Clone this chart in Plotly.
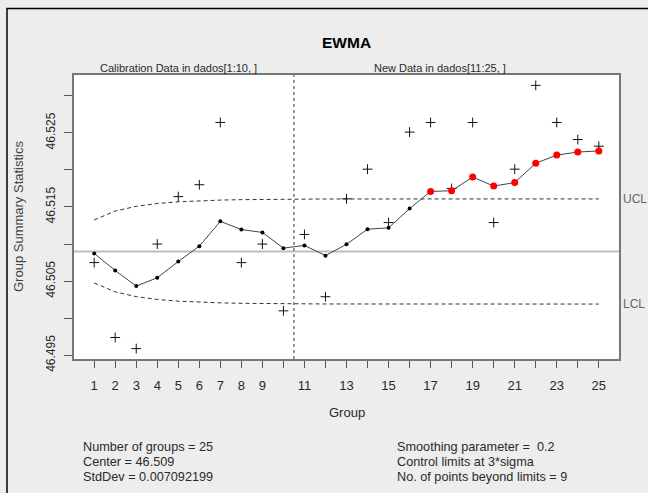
import plotly.graph_objects as go

# ---------------- data ----------------
groups = list(range(1, 26))
group_stats = [46.5075, 46.4974, 46.4959, 46.5100, 46.5164, 46.5180, 46.5264, 46.5075, 46.5100, 46.5010,
               46.5113, 46.5029, 46.5161, 46.5201, 46.5129, 46.5251, 46.5264, 46.5175, 46.5264, 46.5129,
               46.5201, 46.5314, 46.5264, 46.5241, 46.5232]
ewma_values = [46.50874, 46.50644, 46.50433, 46.50546, 46.50765, 46.50972, 46.51306, 46.51196, 46.51157, 46.50945,
               46.50982, 46.50844, 46.50997, 46.51200, 46.51219, 46.51478, 46.51710, 46.51719, 46.51904, 46.51782,
               46.51829, 46.52090, 46.52200, 46.52241, 46.52256]
ucl_values = [46.51326, 46.51445, 46.51509, 46.51547, 46.51570, 46.51584, 46.51593, 46.51599, 46.51603, 46.51605,
              46.51607, 46.51608, 46.51608, 46.51609, 46.51609, 46.51609, 46.51609, 46.51609, 46.51609, 46.51609,
              46.51609, 46.51609, 46.51609, 46.51609, 46.51609]
lcl_values = [46.50475, 46.50355, 46.50291, 46.50253, 46.50230, 46.50216, 46.50207, 46.50201, 46.50197, 46.50195,
              46.50193, 46.50192, 46.50192, 46.50191, 46.50191, 46.50191, 46.50191, 46.50191, 46.50191, 46.50191,
              46.50191, 46.50191, 46.50191, 46.50191, 46.50191]
beyond_groups = [17, 18, 19, 20, 21, 22, 23, 24, 25]
center_value = 46.509
calibration_split = 10.5

x_tick_vals = groups
x_tick_text = ["1", "2", "3", "4", "5", "6", "7", "8", "9", "", "11", "", "13", "", "15", "", "17", "",
               "19", "", "21", "", "23", "", "25"]
y_tick_vals = [46.495, 46.500, 46.505, 46.510, 46.515, 46.520, 46.525, 46.530]
y_tick_text = ["46.495", "", "46.505", "", "46.515", "", "46.525", ""]

summary_left = ["Number of groups = 25", "Center = 46.509", "StdDev = 0.007092199"]
summary_right = ["Smoothing parameter = \u00a00.2", "Control limits at 3*sigma", "No. of points beyond limits = 9"]

# ---------------- geometry helpers ----------------
W, H = 648, 493
ML, MR, MT, MB = 74, 29, 75, 134
PW, PH = W - ML - MR, H - MT - MB


def px(p):
    return (p - ML) / PW


def py(p):
    return (H - MB - p) / PH


FONT = "Liberation Sans, Arial, sans-serif"
TXT = "#2a2a2a"

fig = go.Figure()

# control limits
fig.add_trace(go.Scatter(x=groups, y=ucl_values, mode="lines",
                         line=dict(color="#333", width=1, dash="4px,3px"), hoverinfo="skip"))
fig.add_trace(go.Scatter(x=groups, y=lcl_values, mode="lines",
                         line=dict(color="#333", width=1, dash="4px,3px"), hoverinfo="skip"))

# group statistics (+)
fig.add_trace(go.Scatter(x=groups, y=group_stats, mode="markers",
                         marker=dict(symbol="cross-thin-open", size=7, color="#111",
                                     line=dict(color="#111", width=1))))

# EWMA line with points
fig.add_trace(go.Scatter(x=groups, y=ewma_values, mode="lines+markers",
                         line=dict(color="#444", width=1),
                         marker=dict(color="#000", size=4)))
red_x = [g for g in groups if g in beyond_groups]
red_y = [ewma_values[g - 1] for g in red_x]
fig.add_trace(go.Scatter(x=red_x, y=red_y, mode="markers",
                         marker=dict(color="#ff0000", size=7)))

shapes = [
    # center line
    dict(type="line", xref="paper", yref="y", x0=0, x1=1, y0=center_value, y1=center_value,
         line=dict(color="#bdbdbd", width=2), layer="below"),
    # calibration / new data split
    dict(type="line", xref="x", yref="paper", x0=calibration_split, x1=calibration_split, y0=0, y1=1,
         line=dict(color="#333", width=1, dash="dot")),
    # outer frame
    dict(type="path", xref="paper", yref="paper",
         path=f"M {px(7)} {py(H + 20)} L {px(7)} {py(8.5)} L {px(W + 20)} {py(8.5)}",
         line=dict(color="#000", width=1.5)),
]

annotations = [
    dict(text="<b>EWMA</b>", xref="paper", yref="paper", x=0.5, y=py(43), showarrow=False,
         font=dict(family=FONT, size=15.5, color="#000"), xanchor="center", yanchor="middle"),
    dict(text="Calibration Data in dados[1:10, ]", xref="paper", yref="paper", x=px(178), y=py(68),
         showarrow=False, font=dict(family=FONT, size=11, color=TXT), xanchor="center", yanchor="middle"),
    dict(text="New Data in dados[11:25, ]", xref="paper", yref="paper", x=px(440), y=py(68),
         showarrow=False, font=dict(family=FONT, size=11, color=TXT), xanchor="center", yanchor="middle"),
    dict(text="Group Summary Statistics", xref="paper", yref="paper", x=px(18), y=0.5, textangle=-90,
         showarrow=False, font=dict(family=FONT, size=13, color="#444"), xanchor="center", yanchor="middle"),
    dict(text="Group", xref="paper", yref="paper", x=0.5, y=py(412),
         showarrow=False, font=dict(family=FONT, size=13, color=TXT), xanchor="center", yanchor="middle"),
    dict(text="UCL", xref="paper", yref="y", x=px(621), y=ucl_values[-1],
         showarrow=False, font=dict(family=FONT, size=12, color="#666"), xanchor="left", yanchor="middle"),
    dict(text="LCL", xref="paper", yref="y", x=px(621), y=lcl_values[-1],
         showarrow=False, font=dict(family=FONT, size=12, color="#666"), xanchor="left", yanchor="middle"),
]
for i, (l, r) in enumerate(zip(summary_left, summary_right)):
    yy = py(446.5 + 15 * i)
    annotations.append(dict(text=l, xref="paper", yref="paper", x=px(80.7), y=yy, showarrow=False,
                            font=dict(family=FONT, size=12.7, color=TXT), xanchor="left", yanchor="middle"))
    annotations.append(dict(text=r, xref="paper", yref="paper", x=px(395), y=yy, showarrow=False,
                            font=dict(family=FONT, size=12.7, color=TXT), xanchor="left", yanchor="middle"))

fig.update_layout(
    template="none",
    width=W, height=H,
    margin=dict(l=ML, r=MR, t=MT, b=MB, pad=0, autoexpand=False),
    paper_bgcolor="#ededed", plot_bgcolor="#ffffff",
    showlegend=False,
    shapes=shapes, annotations=annotations,
    font=dict(family=FONT, color=TXT),
)
fig.update_xaxes(range=[0.04, 25.96], tickvals=x_tick_vals, ticktext=x_tick_text,
                 ticks="outside", ticklen=7, tickcolor="#555", tickwidth=1,
                 showline=True, linecolor="#777", linewidth=1.5, mirror=True, automargin=False,
                 showgrid=False, zeroline=False, ticklabelstandoff=7,
                 tickfont=dict(family=FONT, size=13, color=TXT))
fig.update_yaxes(range=[46.4945, 46.5328], tickvals=y_tick_vals, ticktext=y_tick_text,
                 ticks="outside", ticklen=8, tickcolor="#555", tickwidth=1, tickangle=-90,
                 showline=True, linecolor="#777", linewidth=1.5, mirror=True, automargin=False,
                 showgrid=False, zeroline=False, ticklabelstandoff=4,
                 tickfont=dict(family=FONT, size=12, color=TXT))

fig.write_html("out.html", config={"displayModeBar": False},
               post_script="document.body.style.margin='0';document.body.style.background='#ededed';")
